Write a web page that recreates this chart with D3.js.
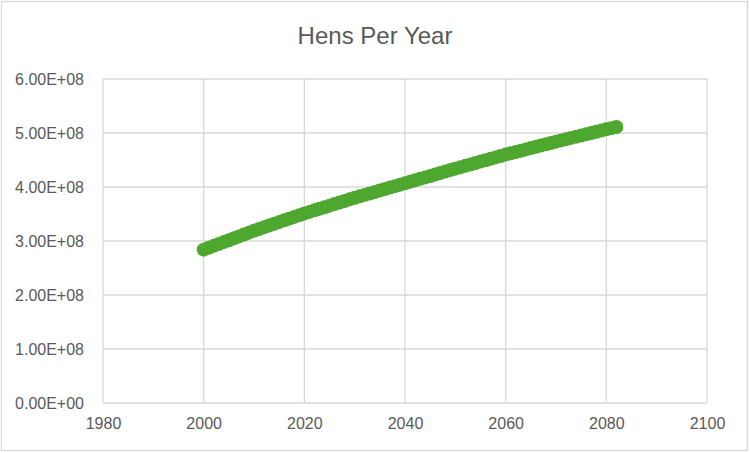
<!DOCTYPE html>
<html>
<head>
<meta charset="utf-8">
<script src="https://cdn.jsdelivr.net/npm/d3@7"></script>
<style>
  body { margin: 0; background: #fff; }
  svg { display: block; }
</style>
</head>
<body>
<svg id="chart" width="750" height="453"></svg>
<script>
var chartTitle = 'Hens Per Year';
var years = d3.range(2000, 2083);
// hens, in millions, one per year 2000..2082
var hens = [
  284.0, 287.5, 291.0, 294.5, 298.0, 301.5, 305.0, 308.5, 312.0, 315.5,
  319.0, 322.2, 325.4, 328.6, 331.8, 335.0, 338.2, 341.4, 344.6, 347.8,
  351.0, 353.9, 356.8, 359.7, 362.6, 365.5, 368.4, 371.3, 374.2, 377.1,
  380.0, 382.7, 385.4, 388.1, 390.8, 393.5, 396.2, 398.9, 401.6, 404.3,
  407.0, 409.7, 412.4, 415.1, 417.8, 420.5, 423.2, 425.9, 428.6, 431.3,
  434.0, 436.6, 439.2, 441.8, 444.4, 447.0, 449.6, 452.2, 454.8, 457.4,
  460.0, 462.4, 464.8, 467.2, 469.6, 472.0, 474.4, 476.8, 479.2, 481.6,
  484.0, 486.3, 488.6, 490.9, 493.2, 495.5, 497.8, 500.1, 502.4, 504.7,
  507.0, 509.0, 511.0
];
var xTicks = [1980, 2000, 2020, 2040, 2060, 2080, 2100];
var yTicks = [0, 1e8, 2e8, 3e8, 4e8, 5e8, 6e8];

var svg = d3.select('#chart');
var width = +svg.attr('width'), height = +svg.attr('height');
var plot = { left: 103, right: 707, top: 79, bottom: 403 };
var font = '"Liberation Sans", Arial, sans-serif';
var textColor = '#595959';
var gridColor = '#d9d9d9';

svg.append('rect')
   .attr('x', 1.5).attr('y', 1.5)
   .attr('width', width - 4).attr('height', height - 4)
   .attr('fill', '#fff')
   .attr('stroke', gridColor).attr('stroke-width', 1.3);

var x = d3.scaleLinear().domain([1980, 2100]).range([plot.left, plot.right]);
var y = d3.scaleLinear().domain([0, 6e8]).range([plot.bottom, plot.top]);

// gridlines
svg.append('g').attr('class', 'x-grid')
   .selectAll('line').data(xTicks).enter().append('line')
   .attr('x1', d => x(d)).attr('x2', d => x(d))
   .attr('y1', plot.top).attr('y2', plot.bottom)
   .attr('stroke', gridColor).attr('stroke-width', 1.3);

svg.append('g').attr('class', 'y-grid')
   .selectAll('line').data(yTicks).enter().append('line')
   .attr('x1', plot.left).attr('x2', plot.right)
   .attr('y1', d => y(d)).attr('y2', d => y(d))
   .attr('stroke', gridColor).attr('stroke-width', 1.3);

// axes (labels only, Excel style)
var yAxis = svg.append('g')
   .attr('transform', `translate(${plot.left - 19},0)`)
   .call(d3.axisLeft(y).tickValues(yTicks).tickSize(0).tickPadding(0)
           .tickFormat(d => d3.format('.2e')(d).replace('e', 'E').replace(/E([+-])(\d)$/, 'E$10$2')));
yAxis.select('.domain').remove();
yAxis.selectAll('text').attr('font-family', font).attr('font-size', 16).attr('fill', textColor);

var xAxis = svg.append('g')
   .attr('transform', `translate(0,${plot.bottom + 15})`)
   .call(d3.axisBottom(x).tickValues(xTicks).tickSize(0).tickPadding(0).tickFormat(d3.format('d')));
xAxis.select('.domain').remove();
xAxis.selectAll('text').attr('font-family', font).attr('font-size', 16).attr('fill', textColor);

// points
svg.append('g').attr('class', 'points')
   .selectAll('circle').data(years).enter().append('circle')
   .attr('cx', (d, i) => x(d))
   .attr('cy', (d, i) => y(hens[i] * 1e6))
   .attr('r', 7)
   .attr('fill', '#4ea72e');

svg.append('text')
   .attr('x', width / 2).attr('y', 44)
   .attr('text-anchor', 'middle')
   .attr('font-family', font).attr('font-size', 24)
   .attr('fill', textColor)
   .text(chartTitle);
</script>
</body>
</html>
